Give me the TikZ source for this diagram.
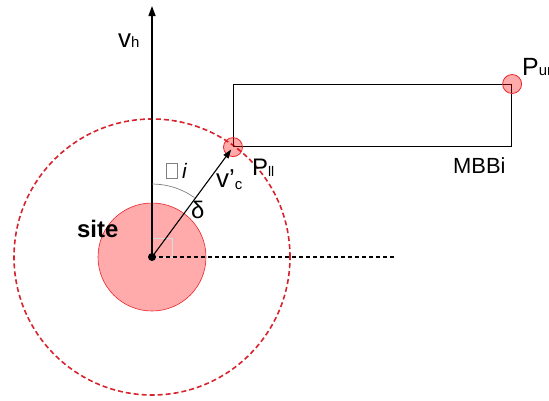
\documentclass[tikz,border=0pt]{standalone}
\usepackage{fontspec}
\setmainfont{Liberation Sans}
\usetikzlibrary{arrows.meta,calc}
\definecolor{redline}{RGB}{235,35,40}
\definecolor{dashred}{RGB}{215,35,45}
\newcommand{\fsz}[1]{\fontsize{#1}{#1}\selectfont}
\begin{document}
\begin{tikzpicture}[x=1bp,y=-1bp,
  lbl/.style={inner sep=0pt, anchor=base west},
  pinkdisc/.style={circle, draw=redline, fill=red, fill opacity=0.33, draw opacity=1, inner sep=0pt},
  corner/.style={circle, draw=redline, line width=0.8bp, fill=red, fill opacity=0.33, draw opacity=1, inner sep=0pt, minimum size=19bp}]
\useasboundingbox (0,0) rectangle (549,400);
\coordinate (O) at (152,257);
% site disc and range circle
\node[pinkdisc, line width=0.6bp, minimum size=108bp] (site) at (O) {};
\node[circle, draw=dashred, line width=1.6bp, dash pattern=on 5bp off 3bp, inner sep=0pt, minimum size=276bp] (range) at (O) {};
% faint right-angle square
\draw[gray!30, line width=0.6bp] (152,238) rectangle (172,257);
% axes
\coordinate (top) at (152,6);
\coordinate (hx) at (396,257);
\draw[line width=1.3bp, -{Triangle[length=10bp,width=7bp]}] (O) -- (top);
\draw[line width=1.2bp, dash pattern=on 4bp off 3bp] (O) -- (hx);
% MBB rectangle
\node[draw, line width=1.1bp, minimum width=278bp, minimum height=62bp, inner sep=0pt, anchor=north west] (mbb) at (233,84) {};
\node[corner] (pll) at (mbb.south west) {};
\node[corner] (pur) at (mbb.north east) {};
% vector v'c
\draw[line width=1.1bp, -{Triangle[length=9bp,width=6bp]}, shorten >=3bp] (O) -- (pll.center);
\fill (O) circle (4bp);
% angle arc
\draw[gray, line width=0.7bp] (152,184) arc[start angle=-90, end angle=-54.5, radius=73];
% labels
\node[lbl, font=\fsz{26}] (vh) at (118,47) {v\fsz{15}h};
\node[lbl, font=\fsz{26}] (vc) at (216,187) {v'\raisebox{-2bp}{\fsz{15}c}};
\node[lbl, font=\fsz{24}] (pllt) at (252,175) {P\raisebox{-1bp}{\fsz{14}ll}};
\node[lbl, font=\fsz{25}] (purt) at (522,75) {P\fsz{15}ur};
\node[lbl, font=\fsz{22}] (mbbt) at (453,173) {MBBi};
\node[lbl, font=\bfseries\fsz{24}] (sitet) at (77,237) {site};
\node[lbl, font=\fsz{24}] (delta) at (191,218) {δ};
\node[draw=gray, line width=0.6bp, minimum width=11bp, minimum height=15bp, inner sep=0pt, anchor=north west] (thbox) at (166,163) {};
\node[lbl, font=\itshape\fsz{21}] (thi) at (182,178) {i};
\end{tikzpicture}
\end{document}
